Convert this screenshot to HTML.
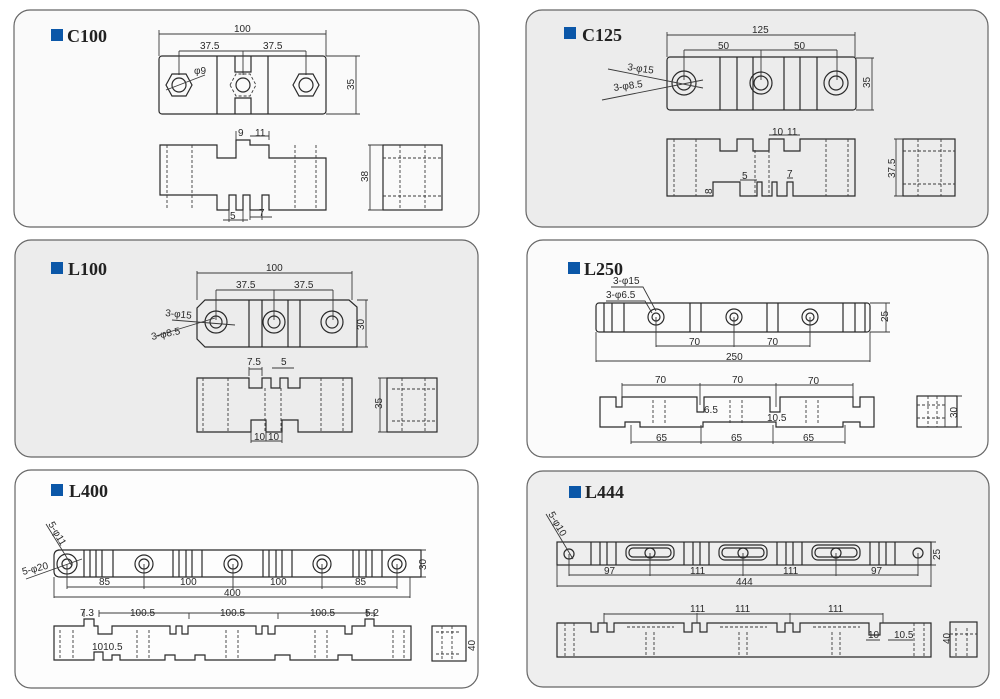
<!DOCTYPE html>
<html><head><meta charset="utf-8"><style>
html,body{margin:0;padding:0;background:#fff}
svg{display:block}
.p{stroke:#666;stroke-width:1.2}
.o{fill:none;stroke:#2a2a2a;stroke-width:1.2}
.d{fill:none;stroke:#3a3a3a;stroke-width:0.9}
.h{fill:none;stroke:#3a3a3a;stroke-width:0.9;stroke-dasharray:3 2}
text{font-family:"Liberation Sans",sans-serif;font-size:10px;fill:#2a2a2a}
.t{font-family:"Liberation Serif",serif;font-weight:bold;font-size:18px;fill:#222}
</style></head><body>
<svg width="1000" height="699" viewBox="0 0 1000 699" xmlns="http://www.w3.org/2000/svg">
<rect class="p" x="14" y="10" width="465" height="217" rx="16" fill="#fafafa"/>
<rect class="p" x="526" y="10" width="462" height="217" rx="16" fill="#ececec"/>
<rect class="p" x="15" y="240" width="463" height="217" rx="16" fill="#ececec"/>
<rect class="p" x="527" y="240" width="461" height="217" rx="16" fill="#fbfbfb"/>
<rect class="p" x="15" y="470" width="463" height="218" rx="16" fill="#fdfdfd"/>
<rect class="p" x="527" y="471" width="462" height="216" rx="16" fill="#eeeeee"/>

<rect x="51" y="29" width="12" height="12" fill="#0b57a8"/><text class="t" x="67" y="42">C100</text>
<rect x="564" y="27" width="12" height="12" fill="#0b57a8"/><text class="t" x="582" y="41">C125</text>
<rect x="51" y="262" width="12" height="12" fill="#0b57a8"/><text class="t" x="68" y="275">L100</text>
<rect x="568" y="262" width="12" height="12" fill="#0b57a8"/><text class="t" x="584" y="275">L250</text>
<rect x="51" y="484" width="12" height="12" fill="#0b57a8"/><text class="t" x="69" y="497">L400</text>
<rect x="569" y="486" width="12" height="12" fill="#0b57a8"/><text class="t" x="585" y="498">L444</text>

<!-- C100 -->
<rect class="o" x="159" y="56" width="167" height="58" rx="3"/>
<path class="d" d="M159 30V56M326 30V56M159 34H326M179 51V75M243 51V75M306 51V75M179 51H306M326 56H360M326 114H360M356 56V114"/>
<text x="234" y="32">100</text><text x="200" y="49">37.5</text><text x="263" y="49">37.5</text>
<text transform="translate(354,90) rotate(-90)">35</text>
<path class="o" d="M217 56V114M268 56V114M235 56V72H251V56M235 114V98H251V114"/>
<polygon class="o" points="166,85 172,74 186,74 192,85 186,96 172,96"/><circle class="o" cx="179" cy="85" r="7"/>
<polygon class="h" points="230,85 236,74 250,74 256,85 250,96 236,96"/><circle class="o" cx="243" cy="85" r="7"/>
<polygon class="o" points="293,85 299,74 313,74 319,85 313,96 299,96"/><circle class="o" cx="306" cy="85" r="7"/>
<path class="d" d="M166 90L205 75"/><text x="194" y="74">φ9</text>
<path class="o" d="M160 145H217V158H236V140H250V145H269V158H326V210H269V195H262V210H250V195H243V210H236V195H229V210H217V195H160Z"/>
<path class="d" d="M236 140V131M269 140V131M250 136H269M229 210V222M243 210V222M223 220H248M250 210V220M262 210V220M250 217H272"/>
<text x="238" y="136">9</text><text x="255" y="136">11</text><text x="230" y="219">5</text><text x="259" y="216">7</text>
<path class="h" d="M167 145V210M192 145V210M295 145V210M316 145V210"/>
<rect class="o" x="383" y="145" width="59" height="65"/>
<path class="h" d="M383 158H442M383 196H442M400 145V210M425 145V210"/>
<path class="d" d="M370 145V210M368 145H383M368 210H383"/><text transform="translate(368,182) rotate(-90)">38</text>

<!-- C125 -->
<rect class="o" x="667" y="57" width="189" height="53" rx="3"/>
<path class="d" d="M667 32V57M855 32V57M667 35H855M684 50V80M761 50V80M837 50V80M684 50H837M856 58H874M856 110H874M872 58V110"/>
<text x="752" y="33">125</text><text x="718" y="49">50</text><text x="794" y="49">50</text>
<text transform="translate(870,88) rotate(-90)">35</text>
<path class="o" d="M720 57V110M737 57V110M753 57V110M784 57V110M800 57V110M817 57V110"/>
<circle class="o" cx="684" cy="83" r="12"/><circle class="o" cx="684" cy="83" r="7"/>
<circle class="o" cx="761" cy="83" r="11"/><circle class="o" cx="761" cy="83" r="7"/>
<circle class="o" cx="836" cy="83" r="12"/><circle class="o" cx="836" cy="83" r="7"/>
<path class="d" d="M608 69L703 88M602 100L703 80"/>
<text x="627" y="70" transform="rotate(8,627,70)">3-φ15</text><text x="614" y="91" transform="rotate(-8,614,91)">3-φ8.5</text>
<path class="o" d="M667 139H720V151H737V139H753V151H769V139H784V151H800V139H855V196H793V182H787V196H777V182H772V196H762V182H757V196H740V182H713V196H667Z"/>
<path class="d" d="M769 135H800M740 180H757M787 178H793"/>
<text x="772" y="135">10</text><text x="787" y="135">11</text><text x="742" y="179">5</text><text x="787" y="177">7</text>
<text transform="translate(712,194) rotate(-90)">8</text>
<path class="h" d="M674 139V196M696 139V196M826 139V196M848 139V196M755 150V196M769 150V196"/>
<rect class="o" x="903" y="139" width="52" height="57"/>
<path class="h" d="M903 151H955M903 184H955M918 139V196M941 139V196"/>
<path class="d" d="M896 139V196M894 139H903M894 196H903"/><text transform="translate(895,178) rotate(-90)">37.5</text>

<!-- L100 -->
<path class="o" d="M205 300H349L357 307V347H205L197 339V308Z"/>
<path class="d" d="M197 271V300M352 271V300M197 273H352M216 290V320M274 290V320M333 290V320M216 290H333M357 300H368M357 347H368M366 300V347"/>
<text x="266" y="271">100</text><text x="236" y="288">37.5</text><text x="294" y="288">37.5</text>
<text transform="translate(364,330) rotate(-90)">30</text>
<path class="o" d="M249 300V347M262 300V347M288 300V347M300 300V347"/>
<circle class="o" cx="216" cy="322" r="11"/><circle class="o" cx="216" cy="322" r="6"/>
<circle class="o" cx="274" cy="322" r="11"/><circle class="o" cx="274" cy="322" r="6"/>
<circle class="o" cx="332" cy="322" r="11"/><circle class="o" cx="332" cy="322" r="6"/>
<path class="d" d="M172 320L235 325M156 336L215 318"/>
<text x="165" y="316" transform="rotate(6,165,316)">3-φ15</text><text x="152" y="340" transform="rotate(-12,152,340)">3-φ8.5</text>
<path class="o" d="M197 378H249V388H262V378H271V388H280V378H288V388H300V378H352V432H298V420H282V432H266V420H251V432H197Z"/>
<path class="d" d="M249 376V367M262 376V367M249 369H262M272 368H294M251 432V443M282 432V443M251 441H282M266 420V441"/>
<text x="247" y="365">7.5</text><text x="281" y="365">5</text><text x="254" y="440">10</text><text x="268" y="440">10</text>
<path class="h" d="M203 378V432M228 378V432M321 378V432M343 378V432M265 388V432M281 388V432"/>
<rect class="o" x="387" y="378" width="50" height="54"/>
<path class="h" d="M392 389H437M392 421H437M402 378V432M425 378V432"/>
<path class="d" d="M380 378V432M378 378H387M378 432H387"/><text transform="translate(382,409) rotate(-90)">35</text>

<!-- L250 -->
<rect class="o" x="596" y="303" width="274" height="29" rx="3"/>
<path class="o" d="M604 303V332M612 303V332M624 303V332M690 303V332M701 303V332M767 303V332M778 303V332M843 303V332M855 303V332M865 303V332"/>
<circle class="o" cx="656" cy="317" r="8"/><circle class="o" cx="656" cy="317" r="4"/>
<circle class="o" cx="734" cy="317" r="8"/><circle class="o" cx="734" cy="317" r="4"/>
<circle class="o" cx="810" cy="317" r="8"/><circle class="o" cx="810" cy="317" r="4"/>
<path class="d" d="M611 287H643L656 311M606 301H645L652 313M656 317V347M734 317V347M810 317V347M656 346H810M596 332V362M870 332V362M596 361H870M870 303H890M870 332H890M886 303V332"/>
<text x="613" y="284">3-φ15</text><text x="606" y="298">3-φ6.5</text>
<text x="689" y="345">70</text><text x="767" y="345">70</text><text x="726" y="360">250</text>
<text transform="translate(888,322) rotate(-90)">25</text>
<path class="o" d="M600 397H616V407H622V397H697V412H704V397H770V412H780V397H853V407H860V397H874V427H860V422H843V427H776V422H703V427H640V422H625V427H600Z"/>
<path class="d" d="M622 407V383M700 405V383M776 407V383M853 407V383M622 385H853M631 425V444M701 425V444M773 425V444M845 425V444M631 442H845"/>
<text x="655" y="383">70</text><text x="732" y="383">70</text><text x="808" y="384">70</text>
<text x="656" y="441">65</text><text x="731" y="441">65</text><text x="803" y="441">65</text>
<text x="704" y="413">6.5</text><text x="767" y="421">10.5</text>
<path class="h" d="M653 400V425M665 400V425M730 400V425M742 400V425M806 400V425M818 400V425"/>
<rect class="o" x="917" y="396" width="40" height="31"/>
<path class="h" d="M917 405H945M917 418H945M928 396V427M937 396V427"/>
<path class="d" d="M945 396V427M957 396H962M957 427H962"/><text transform="translate(957,418) rotate(-90)">30</text>

<!-- L400 -->
<path class="o" d="M58 550H421V577H60Q54 577 54 571V556Q54 550 60 550Z"/>
<path class="o" d="M84 550V577M90 550V577M96 550V577M102 550V577M113 550V577M173 550V577M179 550V577M186 550V577M192 550V577M202 550V577M263 550V577M269 550V577M276 550V577M282 550V577M292 550V577M353 550V577M359 550V577M366 550V577M372 550V577M382 550V577"/>
<circle class="o" cx="67" cy="564" r="10"/><circle class="o" cx="67" cy="564" r="5"/>
<circle class="o" cx="144" cy="564" r="9"/><circle class="o" cx="144" cy="564" r="5"/>
<circle class="o" cx="233" cy="564" r="9"/><circle class="o" cx="233" cy="564" r="5"/>
<circle class="o" cx="322" cy="564" r="9"/><circle class="o" cx="322" cy="564" r="5"/>
<circle class="o" cx="397" cy="564" r="9"/><circle class="o" cx="397" cy="564" r="5"/>
<path class="d" d="M46 524L72 566M26 579L82 559M67 564V589M144 564V589M233 564V589M322 564V589M397 564V589M67 587H397M54 577V598M410 577V598M54 597H410M421 550H426M421 577H426"/>
<text transform="translate(48,524) rotate(60)">5-φ11</text><text x="23" y="575" transform="rotate(-14,23,575)">5-φ20</text>
<text x="99" y="585">85</text><text x="180" y="585">100</text><text x="270" y="585">100</text><text x="355" y="585">85</text>
<text x="224" y="596">400</text>
<text transform="translate(426,570) rotate(-90)">30</text>
<path class="o" d="M54 626H84V619H94V626H98V634H112V626H170V634H176V626H182V634H188V626H256V634H262V626H268V634H275V626H345V634H352V626H365V619H374V626H411V660H352V655H338V660H290V655H275V660H205V655H195V660H175V655H165V660H120V655H112V660H103V652H94V660H54Z"/>
<path class="d" d="M84 617V610M99 617V610M99 613H375M189 613V619M278 613V619M367 617V610M374 617V610"/>
<text x="80" y="616">7.3</text><text x="130" y="616">100.5</text><text x="220" y="616">100.5</text><text x="310" y="616">100.5</text><text x="365" y="616">5.2</text>
<text x="92" y="650">1010.5</text>
<path class="h" d="M60 630V660M73 630V660M137 630V660M149 630V660M226 630V660M238 630V660M315 630V660M327 630V660M393 630V660M404 630V660"/>
<rect class="o" x="432" y="626" width="34" height="35"/>
<path class="h" d="M436 632H460M436 654H460M442 626V661M452 626V661"/>
<text transform="translate(475,651) rotate(-90)">40</text>

<!-- L444 -->
<rect class="o" x="557" y="542" width="374" height="23"/>
<path class="o" d="M591 542V565M600 542V565M607 542V565M616 542V565M684 542V565M693 542V565M700 542V565M709 542V565M777 542V565M786 542V565M793 542V565M802 542V565M870 542V565M879 542V565M886 542V565M895 542V565"/>
<rect class="o" x="626" y="545" width="48" height="15" rx="6"/><rect class="o" x="629" y="548" width="42" height="9" rx="4"/>
<rect class="o" x="719" y="545" width="48" height="15" rx="6"/><rect class="o" x="722" y="548" width="42" height="9" rx="4"/>
<rect class="o" x="812" y="545" width="48" height="15" rx="6"/><rect class="o" x="815" y="548" width="42" height="9" rx="4"/>
<circle class="o" cx="569" cy="554" r="5"/><circle class="o" cx="650" cy="553" r="5"/><circle class="o" cx="743" cy="553" r="5"/><circle class="o" cx="836" cy="553" r="5"/><circle class="o" cx="918" cy="553" r="5"/>
<path class="d" d="M546 514L573 559M569 554V576M650 553V576M743 553V576M836 553V576M918 553V576M569 575H918M557 565V587M931 565V587M557 586H931M931 542H936M931 565H936"/>
<text transform="translate(548,514) rotate(60)">5-φ10</text>
<text x="604" y="574">97</text><text x="690" y="574">111</text><text x="783" y="574">111</text><text x="871" y="574">97</text><text x="736" y="585">444</text>
<text transform="translate(940,560) rotate(-90)">25</text>
<path class="o" d="M557 623H591V632H598V623H607V632H614V623H684V632H692V623H700V632H707V623H777V632H785V623H793V632H800V623H869V635H880V623H931V657H557Z"/>
<path class="d" d="M604 623V613M697 623V613M790 623V613M883 623V613M604 614H883M866 640H880M888 640H913"/>
<path class="h" d="M627 627H674M720 627H767M813 627H860"/>
<text x="690" y="612">111</text><text x="735" y="612">111</text><text x="828" y="612">111</text>
<text x="868" y="638">10</text><text x="894" y="638">10.5</text>
<path class="h" d="M565 623V657M574 623V657M646 632V657M654 632V657M739 632V657M747 632V657M832 632V657M840 632V657M914 623V657M924 623V657"/>
<rect class="o" x="950" y="622" width="27" height="35"/>
<path class="h" d="M956 628V657M967 628V657M950 634H977"/>
<text transform="translate(950,644) rotate(-90)">40</text>
</svg>
</body></html>
